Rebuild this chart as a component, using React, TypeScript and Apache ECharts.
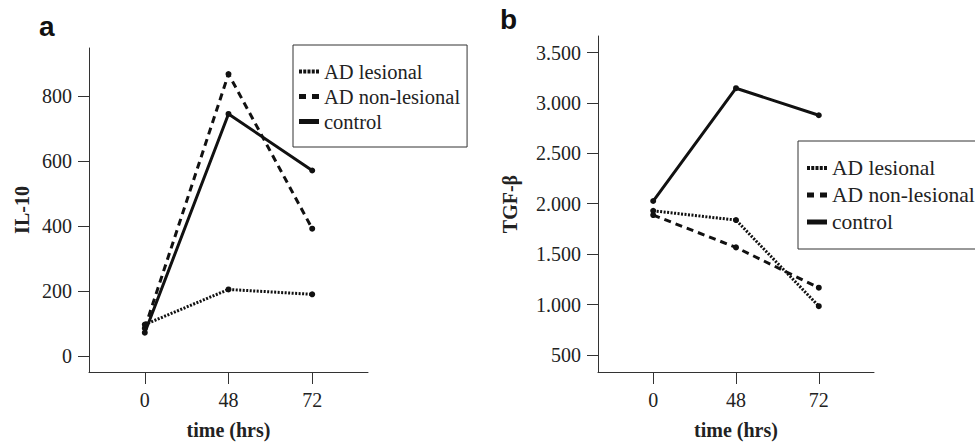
import React, { useEffect, useRef } from "react";
import * as echarts from "echarts";

const timeLabels = ["0", "48", "72"];
const seriesNames = ["AD lesional", "AD non-lesional", "control"];
const il10Lesional = [97, 205, 190];
const il10NonLesional = [86, 868, 392];
const il10Control = [72, 745, 571];
const tgfLesional = [1930, 1838, 984];
const tgfNonLesional = [1888, 1567, 1167];
const tgfControl = [2027, 3146, 2878];
const il10Ticks = [0, 200, 400, 600, 800];
const tgfTicks = [500, 1000, 1500, 2000, 2500, 3000, 3500];

const SERIF = "Liberation Serif";
const SANS = "Liberation Sans";
const INK = "#111";
const AXIS = "#333";
const TEXT = "#222";

const dottedIcon = "path://M0 0.5h3v4h-3z M4.25 0.5h3v4h-3z M8.5 0.5h3v4h-3z M12.75 0.5h3v4h-3z M17 0.5h3v4h-3z M0 0h0.01v0.01z M0 5h0.01v-0.01z";
const dashedIcon = "path://M0 0h7v5h-7z M13 0h7v5h-7z";
const solidIcon = "path://M0 0h20v5h-20z";
const icons = [dottedIcon, dashedIcon, solidIcon];
const dashes: any[] = [[2, 1.5], [7, 5], "solid"];

const labelStyle = { fontSize: 20, fontFamily: SERIF, fontWeight: "normal", color: TEXT };

function thousands(v: number) {
  const s = String(v);
  return s.length > 3 ? s.slice(0, s.length - 3) + "." + s.slice(s.length - 3) : s;
}

function xAxisFor(gridIndex: number) {
  return {
    type: "value",
    gridIndex,
    min: -2 / 3,
    max: 8 / 3,
    axisLine: { show: true, onZero: false, lineStyle: { color: AXIS, width: 1 } },
    axisTick: { show: true, length: 12, customValues: [0, 1, 2], lineStyle: { color: AXIS, width: 1 } },
    axisLabel: {
      customValues: [0, 1, 2],
      formatter: (v: number) => timeLabels[Math.round(v)],
      margin: 18,
      ...labelStyle,
    },
    splitLine: { show: false },
    name: "time (hrs)",
    nameLocation: "middle",
    nameGap: 48,
    nameTextStyle: { fontWeight: "bold", fontSize: 20, fontFamily: SERIF, color: TEXT },
  };
}

function yAxisFor(gridIndex: number, min: number, max: number, ticks: number[], name: string, nameGap: number, fmt: (v: number) => string) {
  return {
    type: "value",
    gridIndex,
    min,
    max,
    axisLine: { show: true, onZero: false, lineStyle: { color: AXIS, width: 1 } },
    axisTick: { show: true, length: 11, customValues: ticks, lineStyle: { color: AXIS, width: 1 } },
    axisLabel: { customValues: ticks, formatter: fmt, margin: 17, ...labelStyle },
    splitLine: { show: false },
    name,
    nameLocation: "middle",
    nameGap,
    nameTextStyle: { fontWeight: "bold", fontSize: 20, fontFamily: SERIF, color: TEXT },
  };
}

function lineSeries(name: string, idx: number, values: number[], axisIndex: number) {
  return {
    type: "line",
    name,
    xAxisIndex: axisIndex,
    yAxisIndex: axisIndex,
    data: values.map((v, i) => [i, v]),
    symbol: "circle",
    symbolSize: 6,
    showSymbol: true,
    itemStyle: { color: INK },
    lineStyle: { color: INK, width: 3, type: dashes[idx], cap: "butt" },
    z: 3 - idx,
  };
}

function legendFor(left: number, top: number, padding: number[], itemGap: number, fontSize: number) {
  return {
    left,
    top,
    orient: "vertical",
    padding,
    itemGap,
    itemWidth: 20,
    itemHeight: 5,
    borderColor: AXIS,
    borderWidth: 1,
    selectedMode: false,
    data: seriesNames.map((n, i) => ({ name: n, icon: icons[i] })),
    textStyle: { ...labelStyle, fontSize },
  };
}

export default function App() {
  const ref = useRef<HTMLDivElement>(null);
  useEffect(() => {
    if (!ref.current) return;
    const chart = echarts.init(ref.current, null, { renderer: "svg" });
    const il10Sets = [il10Lesional, il10NonLesional, il10Control];
    const tgfSets = [tgfLesional, tgfNonLesional, tgfControl];
    chart.setOption({
      animation: false,
      backgroundColor: "#fff",
      textStyle: { fontFamily: SERIF, fontSize: 20 },
      grid: [
        { left: 89, top: 48, width: 279, height: 324, containLabel: false, outerBoundsMode: "none" },
        { left: 598, top: 36, width: 276, height: 336, containLabel: false, outerBoundsMode: "none" },
      ],
      xAxis: [xAxisFor(0), xAxisFor(1)],
      yAxis: [
        yAxisFor(0, -49, 948, il10Ticks, "IL-10", 57, (v) => String(v)),
        yAxisFor(1, 331, 3664, tgfTicks, "TGF-β", 78, thousands),
      ],
      legend: [
        legendFor(293, 45, [16, 7, 15, 6], 4, 20.5),
        legendFor(798, 141, [16, 30, 16, 9], 5, 21.5),
      ],
      series: [
        ...il10Sets.map((s, i) => lineSeries(seriesNames[i], i, s, 0)),
        ...tgfSets.map((s, i) => lineSeries(seriesNames[i], i, s, 1)),
      ],
      graphic: [
        { type: "text", left: 39, top: 12, style: { text: "a", fontSize: 28, fontWeight: "bold", fontFamily: SANS, fill: INK } },
        { type: "text", left: 500, top: 5, style: { text: "b", fontSize: 28, fontWeight: "bold", fontFamily: SANS, fill: INK } },
      ],
    });
    return () => chart.dispose();
  }, []);
  return <div ref={ref} style={{ position: "absolute", left: 0, top: 0, width: 975, height: 442 }} />;
}
